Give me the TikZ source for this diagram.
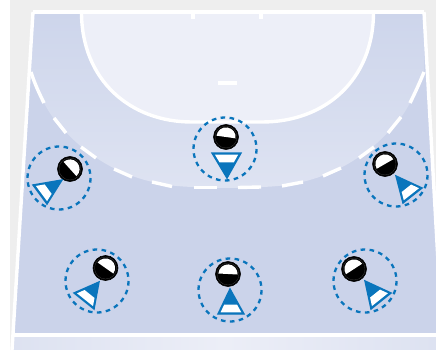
\documentclass[tikz,border=0pt]{standalone}
\usetikzlibrary{calc}
\definecolor{pagegray}{HTML}{EEEEEE}
\definecolor{court}{HTML}{CBD3EA}
\definecolor{zonetop}{HTML}{CDD5EB}
\definecolor{zonebot}{HTML}{DEE3F2}
\definecolor{goalarea}{HTML}{EDEFF8}
\definecolor{stripa}{HTML}{DDE2F1}
\definecolor{stripb}{HTML}{ECEEF7}
\definecolor{playerblue}{HTML}{0A75BC}
\tikzset{
  courtline/.style={draw=white,line width=3.4pt},
  zonedash/.style={draw=white,line width=3.4pt},
  ringstyle/.style={draw=playerblue,line width=2.3pt,dash pattern=on 4.6pt off 4.4pt},
  ballstyle/.style={fill=black,draw=black,line width=.6pt},
  wedgestyle/.style={fill=playerblue,draw=playerblue,line width=1.4pt,line join=miter},
}
% #1 ring centre, #2 ball centre, #3 chord angle, #4 tip, #5 base A, #6 base B
\newcommand{\hbplayer}[6]{%
  \draw[ringstyle] (#1) circle[radius=31.5];
  \fill[ballstyle] (#2) circle[radius=12.5];
  \draw[black!70,line width=.2pt] (#2) circle[radius=11];
  \fill[white] ($(#2)+(#3:9.6)$) arc[start angle=#3,delta angle=-180,radius=9.6] -- cycle;
  \coordinate (T) at (#4);
  \coordinate (A) at (#5);
  \coordinate (B) at (#6);
  \coordinate (G) at ($1/3*(T)+1/3*(A)+1/3*(B)$);
  \coordinate (Ti) at ($(T)!.2!(G)$);
  \coordinate (Ai) at ($(A)!.2!(G)$);
  \coordinate (Bi) at ($(B)!.2!(G)$);
  \fill[wedgestyle] (T) -- (A) -- (B) -- cycle;
  \fill[white] (Ai) -- (Bi) -- ($(Bi)!.38!(Ti)$) -- ($(Ai)!.38!(Ti)$) -- cycle;
}
\begin{document}
\begin{tikzpicture}[x=1pt,y=-1pt]
\useasboundingbox (0,0) rectangle (436,350);
\fill[white] (0,0) rectangle (436,350);
\fill[pagegray] (10,0) rectangle (436,350);
\begin{scope}
  \clip (0,0) rectangle (436,350);
  % court
  \fill[court] (33,12) -- (424,12) -- (442,335) -- (14,335) -- cycle;
  % bottom strip
  \path[left color=stripa,right color=stripa,middle color=stripb] (12.5,336) rectangle (436,350);
  % free-throw zone
  \path[top color=zonetop,bottom color=zonebot]
    (33,12) -- (31,72) -- 
    plot[smooth,tension=.6] coordinates {(31,72) (44,103) (60,126) (88,152) (122,172) (162,184) (205,187.5) (250,187.5) (293,184) (332,172) (366,152) (394,126) (410,103) (424,72)}
    -- (424,12) -- cycle;
  % goal area
  \filldraw[fill=goalarea,courtline] (81.5,12) .. controls (81.5,80) and (130,122) .. (192,122)
    -- (262,122) .. controls (325,122) and (373.5,80) .. (373.5,12);
  % lines
  \draw[courtline] (32.5,12) -- (424,12);
  \draw[courtline] (33,12) -- (12,350);
  \draw[courtline] (424,12) -- (443,350);
  \draw[courtline] (13,335) -- (436,335);
  \draw[courtline] (193,12) -- (193,19);
  \draw[courtline] (261,12) -- (261,19);
  \draw[courtline] (218,83) -- (237,83);
  % dashes
  \draw[zonedash] (31,72) .. controls (34,82) and (39,93) .. (44,103);
  \draw[zonedash] (54,118) -- (66,133);
  \draw[zonedash] (81,147) -- (96,158);
  \draw[zonedash] (114,169) -- (132,177);
  \draw[zonedash] (152,182) -- (172,186.5);
  \draw[zonedash] (194,187.5) -- (217,187.5);
  \draw[zonedash] (238,187.5) -- (261,187);
  \draw[zonedash] (282,186) -- (303,182);
  \draw[zonedash] (323,176) -- (341,168);
  \draw[zonedash] (359,158) -- (374,147);
  \draw[zonedash] (388,133) -- (401,117);
  \draw[zonedash] (410,103) .. controls (415,93) and (420,82) .. (424,72);
\end{scope}
\hbplayer{225,149}{226,137}{8}{227,178}{212,153}{241,153}
\hbplayer{59,178}{70,169}{48}{62,180}{33,185}{47,204}
\hbplayer{396,175}{385,164}{-30}{396,176}{422,188}{403,203}
\hbplayer{97,281}{105.5,268}{35}{99,282}{74,293}{94,309}
\hbplayer{230,290}{228,274}{3}{230,289}{218,314}{244,314}
\hbplayer{365,281}{354,269}{-33}{365,281}{391,293}{371,309}
\end{tikzpicture}
\end{document}
